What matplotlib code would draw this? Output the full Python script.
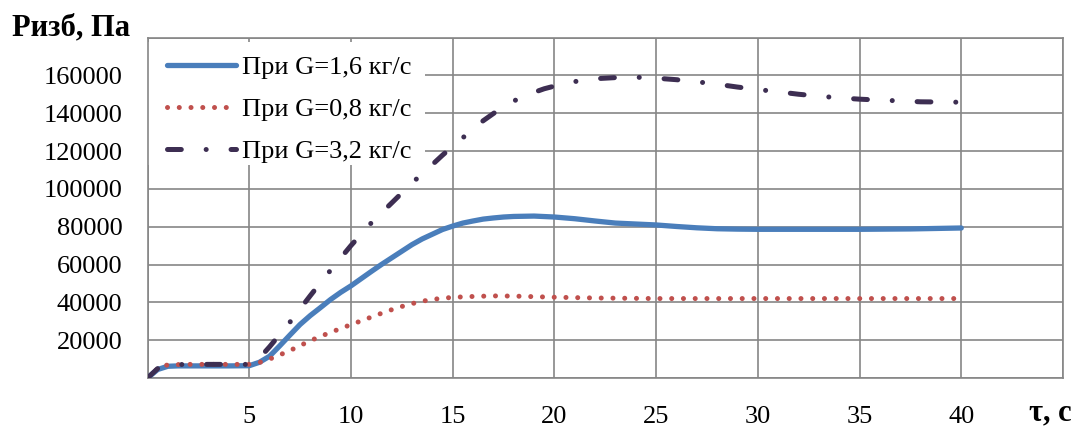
import matplotlib
matplotlib.use("Agg")
import matplotlib.pyplot as plt
from matplotlib.patches import Rectangle

plt.rcParams['font.family'] = ['Liberation Serif', 'DejaVu Serif']

# G = 1,6 kg/s
t_16 = [0, 0.5, 1, 1.5, 2, 3, 4, 5, 5.5, 6, 6.5, 7, 7.5, 8, 8.5, 9, 9.5, 10,
        10.5, 11, 11.5, 12, 12.5, 13, 13.5, 14, 14.5, 15, 15.5, 16, 16.5, 17,
        17.5, 18, 19, 20, 21, 22, 23, 24, 25, 26, 27,
        28, 29, 30, 32, 35, 37.5, 40]
p_16 = [0, 4500, 6200, 6400, 6400, 6400, 6400, 6500, 8300, 11500, 17000, 22700,
        28300, 33000, 37200, 41500, 45300, 48700,
        52500, 56300, 60000, 63500, 67000, 70500, 73500, 76000, 78500, 80300,
        81900, 83000, 84000, 84600,
        85100, 85400, 85600, 85100, 84200, 83000, 81900, 81400, 80900, 80100,
        79400, 78900, 78700, 78600, 78600, 78600, 78800, 79300]

# G = 0,8 kg/s
t_08 = [0, 0.5, 1, 2, 3, 4, 5, 5.5, 6, 6.5, 7, 7.5, 8, 8.5, 9, 9.5, 10, 10.5,
        11, 11.5, 12, 12.5, 13, 13.5, 14, 14.5, 15, 15.5, 16,
        17, 18, 19, 20, 22, 25, 30, 35, 40]
p_08 = [0, 5000, 7000, 7200, 7200, 7200, 7200, 8200, 10000, 12200, 14500, 17100,
        19700, 22000, 24100, 26200, 28200, 30200,
        32200, 34200, 36100, 37800, 39300, 40600, 41500, 42200, 42600, 42900,
        43100, 43400, 43300, 43000, 42700, 42300, 42000, 42000, 42000, 42000]

# G = 3,2 kg/s
t_32 = [0, 0.5, 1, 2, 3, 4, 5, 5.5, 6, 6.5, 7, 7.5, 8, 8.5, 9, 9.5, 10, 10.5,
        11, 11.5, 12, 12.5, 13, 13.5, 14, 14.5, 15, 15.5, 16, 16.5, 17, 17.5,
        18, 18.5, 19, 19.5, 20, 21, 22, 23, 24, 25, 26, 27, 28, 29, 30, 31,
        32, 33, 34, 35, 36, 37, 38, 39, 40]
p_32 = [0, 5000, 7000, 7200, 7200, 7200, 7200, 10500, 16500, 23000, 29500, 36500,
        43500, 50300, 57000, 63500, 70000, 76000,
        82000, 87300, 92500, 97800, 103000, 108000, 112800, 117800, 122500,
        127000, 131500, 136000, 139800, 143400, 146400, 149000, 151000, 152900,
        154300, 156700, 158200, 158800, 159000, 158500,
        157700, 156600, 155300, 153800, 152500, 151300, 150000, 149000,
        148100, 147400, 146900, 146500, 146000, 145900, 145800]

labels = ["При G=1,6 кг/с", "При G=0,8 кг/с", "При G=3,2 кг/с"]
x_ticks = [0, 5, 10, 15, 20, 25, 30, 35, 40, 45]
y_ticks = [0, 20000, 40000, 60000, 80000, 100000, 120000, 140000, 160000, 180000]

fig = plt.figure(figsize=(10.77, 4.29), dpi=100)
ax = fig.add_axes([147.5 / 1077, 51 / 429, 915.5 / 1077, 340.5 / 429])

grid_col = "#868686"
ax.plot(t_16, p_16, color="#4a7ebb", lw=3.8, solid_capstyle="round",
        solid_joinstyle="round", label=labels[0], zorder=3)
ax.plot(t_08, p_08, color="#c0504d", lw=3.6, dash_capstyle="round",
        linestyle=(0, (0.01, 2.34)), label=labels[1], zorder=3)
ax.plot(t_32, p_32, color="#3d2e52", lw=3.6, dash_capstyle="round",
        linestyle=(0, (2.76, 4.97, 0.01, 4.97)), label=labels[2], zorder=3)

ax.set_xlim(0, 45)
ax.set_ylim(0, 180000)
ax.set_xticks(x_ticks)
ax.set_xticklabels(["" if v in (0, 45) else str(v) for v in x_ticks])
ax.set_yticks(y_ticks)
ax.set_yticklabels(["" if v in (0, 180000) else str(v) for v in y_ticks])
ax.tick_params(axis="both", length=0, labelsize=19)
ax.tick_params(axis="y", pad=18)
ax.tick_params(axis="x", pad=20)
ax.grid(True, color=grid_col, lw=1.2)
for s in ax.spines.values():
    s.set_color(grid_col)
    s.set_linewidth(1.2)

# white area behind legend hides the grid
ax.add_patch(Rectangle((0, 0.6256), 0.3028, 0.3612, transform=ax.transAxes,
                       facecolor="white", edgecolor="none", zorder=2))
ax.legend(loc="upper left", bbox_to_anchor=(0.0121, 0.972), borderaxespad=0,
          frameon=False, fontsize=19, handlelength=2.6, handletextpad=0.26,
          labelspacing=0.7, borderpad=0.32)

fig.text(12 / 1077, 1 - 35 / 429, "Ризб, Па", fontsize=22, fontweight="bold",
         va="baseline", ha="left")
fig.text(1029 / 1077, 9 / 429, "τ, с", fontsize=22, fontweight="bold",
         va="baseline", ha="left")

fig.savefig("out.png", dpi=100)
